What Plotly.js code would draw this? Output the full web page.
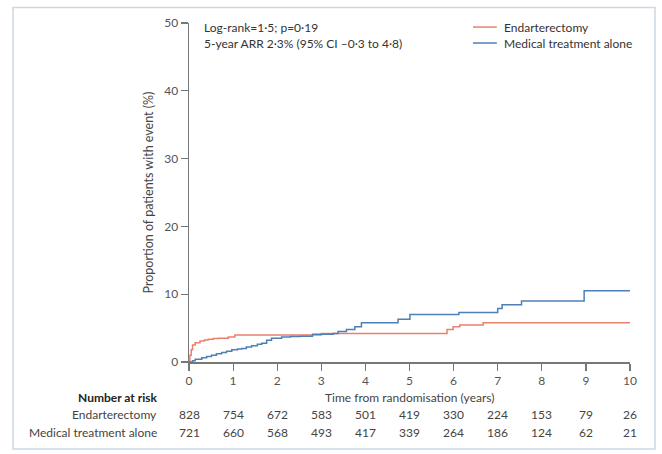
<!DOCTYPE html>
<html>
<head>
<meta charset="utf-8">
<script src="https://cdn.plot.ly/plotly-3.0.1.min.js"></script>
<style>html,body{margin:0;padding:0;background:#fff;}#chart{width:662px;height:454px;}</style>
</head>
<body>
<div id="chart"></div>
<script>
// Kaplan-Meier style cumulative event curves (years, %)
const endT = [0, 0.02, 0.05, 0.08, 0.14, 0.25, 0.35, 0.44, 0.55, 0.67, 0.89, 1.04, 3.0, 5.85, 5.99, 6.14, 6.67, 10];
const endY = [0, 1.0, 1.8, 2.5, 2.85, 3.1, 3.25, 3.35, 3.45, 3.5, 3.7, 4.0, 4.2, 4.8, 5.2, 5.45, 5.8, 5.8];

const medT = [0, 0.08, 0.14, 0.29, 0.4, 0.51, 0.62, 0.74, 0.85, 0.97, 1.1, 1.2, 1.3, 1.42, 1.55, 1.65, 1.76, 1.87, 2.1, 2.3, 2.52, 2.8, 3.27, 3.38, 3.57, 3.76, 3.91, 4.74, 5.01, 6.12, 7.0, 7.1, 7.54, 8.96, 10];
const medY = [0, 0.2, 0.4, 0.63, 0.8, 1.0, 1.2, 1.4, 1.6, 1.8, 1.9, 2.0, 2.2, 2.4, 2.6, 2.75, 3.2, 3.5, 3.7, 3.75, 3.8, 4.1, 4.2, 4.5, 4.8, 5.2, 5.8, 6.3, 7.0, 7.3, 7.9, 8.45, 9.0, 10.5, 10.5];

const seriesNames = ["Endarterectomy", "Medical treatment alone"];
const riskTimes = [0, 1, 2, 3, 4, 5, 6, 7, 8, 9, 10];
const riskEnd = [828, 754, 672, 583, 501, 419, 330, 224, 153, 79, 26];
const riskMed = [721, 660, 568, 493, 417, 339, 264, 186, 124, 62, 21];
const yTicks = [0, 10, 20, 30, 40, 50];

const statLines = ["Log-rank=1·5; p=0·19", "5-year ARR 2·3% (95% CI –0·3 to 4·8)"];

const FONT = "Lato, 'Open Sans', sans-serif";
const red = "#e9806c", blue = "#4d80b6";
const colors = [red, blue];

const traces = [
  {x: endT, y: endY, name: seriesNames[0], mode: "lines", line: {shape: "hv", color: red, width: 1.5}},
  {x: medT, y: medY, name: seriesNames[1], mode: "lines", line: {shape: "hv", color: blue, width: 1.5}}
];

const annotations = [];
const shapes = [];
const txt = (c) => ({family: FONT, size: 12, color: c});
// stats text
annotations.push({xref: "paper", yref: "paper", x: 0.03, y: 0.988, xanchor: "left", yanchor: "middle",
  text: statLines[0], showarrow: false, font: txt("#333")});
annotations.push({xref: "paper", yref: "paper", x: 0.03, y: 0.941, xanchor: "left", yanchor: "middle",
  text: statLines[1], showarrow: false, font: txt("#333")});
// manual legend
const legY = [0.988, 0.941];
seriesNames.forEach((n, i) => {
  shapes.push({type: "line", xref: "paper", yref: "paper", x0: 0.644, x1: 0.698, y0: legY[i], y1: legY[i],
    line: {color: colors[i], width: 1.5}});
  annotations.push({xref: "paper", yref: "paper", x: 0.71, y: legY[i], xanchor: "left", yanchor: "middle",
    text: n, showarrow: false, font: txt("#333")});
});
// x title
annotations.push({xref: "paper", yref: "paper", x: 0.5, y: -0.106, xanchor: "center", yanchor: "middle",
  text: "Time from randomisation (years)", showarrow: false, font: txt("#444")});
// number at risk
const lblX = -0.068;
annotations.push({xref: "paper", yref: "paper", x: lblX, y: -0.106, xanchor: "right", yanchor: "middle",
  text: "<b>Number at risk</b>", showarrow: false, font: txt("#222")});
annotations.push({xref: "paper", yref: "paper", x: lblX, y: -0.156, xanchor: "right", yanchor: "middle",
  text: seriesNames[0], showarrow: false, font: txt("#444")});
annotations.push({xref: "paper", yref: "paper", x: lblX, y: -0.2065, xanchor: "right", yanchor: "middle",
  text: seriesNames[1], showarrow: false, font: txt("#444")});
riskTimes.forEach((t, i) => {
  annotations.push({xref: "x", yref: "paper", x: t, y: -0.156, xanchor: "center", yanchor: "middle",
    text: String(riskEnd[i]), showarrow: false, font: txt("#444")});
  annotations.push({xref: "x", yref: "paper", x: t, y: -0.2065, xanchor: "center", yanchor: "middle",
    text: String(riskMed[i]), showarrow: false, font: txt("#444")});
});
// outer frame
shapes.push({type: "rect", xref: "paper", yref: "paper", x0: -0.399, x1: 1.0567, y0: -0.2566, y1: 1.046,
  line: {color: "#cdd7e3", width: 1.5}, fillcolor: "rgba(0,0,0,0)"});

const layout = {
  width: 662, height: 454,
  margin: {l: 189, r: 32, t: 23, b: 92},
  paper_bgcolor: "#fff", plot_bgcolor: "#fff",
  showlegend: false,
  xaxis: {range: [0, 10], tickvals: riskTimes, showgrid: false, zeroline: false,
    showline: true, linecolor: "#777", linewidth: 1.5, ticks: "outside", ticklen: 7, tickcolor: "#777", tickwidth: 1.2,
    tickfont: {family: FONT, size: 12, color: "#555"}, fixedrange: true},
  yaxis: {range: [0, 50], tickvals: yTicks, showgrid: false, zeroline: false,
    showline: true, linecolor: "#777", linewidth: 1.5, ticks: "outside", ticklen: 7, tickcolor: "#777", tickwidth: 1.2,
    tickfont: {family: FONT, size: 12, color: "#555"},
    title: {text: "Proportion of patients with event (%)", font: {family: FONT, size: 12.5, color: "#444"}, standoff: 8}},
  annotations: annotations,
  shapes: shapes
};

Plotly.newPlot("chart", traces, layout, {displayModeBar: false, staticPlot: true});
</script>
</body>
</html>
